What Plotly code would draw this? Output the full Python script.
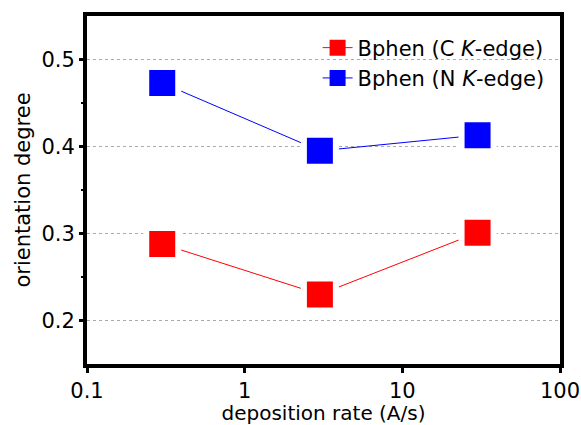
import plotly.graph_objects as go

rate = [0.3, 3, 30]
c_edge = [0.288, 0.230, 0.301]
n_edge = [0.473, 0.395, 0.413]
names = ["Bphen (C <i>K</i>-edge)", "Bphen (N <i>K</i>-edge)"]
colors = ["#ff0000", "#0000ff"]

FONT = "DejaVu Sans, Liberation Sans, Arial, sans-serif"

fig = go.Figure()
for yv, nm, col in zip([c_edge, n_edge], names, colors):
    # data trace; white marker outline leaves a small gap between line and marker
    fig.add_trace(go.Scatter(x=rate, y=yv, mode="lines+markers", showlegend=False,
                             line=dict(color=col, width=1),
                             marker=dict(symbol="square", size=32, color=col,
                                         line=dict(color="white", width=6))))
for nm, col in zip(names, colors):
    # legend-only entry
    fig.add_trace(go.Scatter(x=[None], y=[None], mode="lines+markers", name=nm,
                             line=dict(color=col, width=1),
                             marker=dict(symbol="square", size=16, color=col)))

fig.update_layout(
    width=581, height=425,
    margin=dict(l=87, r=21, t=16, b=61),
    plot_bgcolor="white", paper_bgcolor="white",
    font=dict(family=FONT, size=21, color="black"),
    showlegend=True,
    legend=dict(x=0.978, y=0.967, xanchor="right", yanchor="top", bgcolor="rgba(0,0,0,0)",
                font=dict(family=FONT, size=21), tracegroupgap=0),
)
fig.update_xaxes(type="log", range=[-1, 2], tickvals=[0.1, 1, 10, 100], ticktext=["0.1", "1", "10", "100"],
                 showline=True, linecolor="black", linewidth=4, mirror=True,
                 ticks="outside", ticklen=5, tickwidth=3, tickcolor="black",
                 showgrid=False, zeroline=False, automargin=False,
                 tickfont=dict(size=21),
                 title=dict(text="deposition rate (A/s)", font=dict(size=20), standoff=2))
fig.update_yaxes(range=[0.15, 0.55], tickvals=[0.2, 0.3, 0.4, 0.5], ticktext=["0.2", "0.3", "0.4", "0.5"],
                 showline=True, linecolor="black", linewidth=4, mirror=True,
                 ticks="outside", ticklen=4, tickwidth=3, tickcolor="black",
                 tickfont=dict(size=21), automargin=False,
                 showgrid=True, gridcolor="#aaaaaa", griddash="dot", gridwidth=1, zeroline=False,
                 minor=dict(tickvals=[0.25, 0.35, 0.45], ticks="outside", ticklen=2, tickwidth=2, tickcolor="black", showgrid=False),
                 title=dict(text="orientation degree", font=dict(size=21), standoff=6))

fig.write_html("out.html")
